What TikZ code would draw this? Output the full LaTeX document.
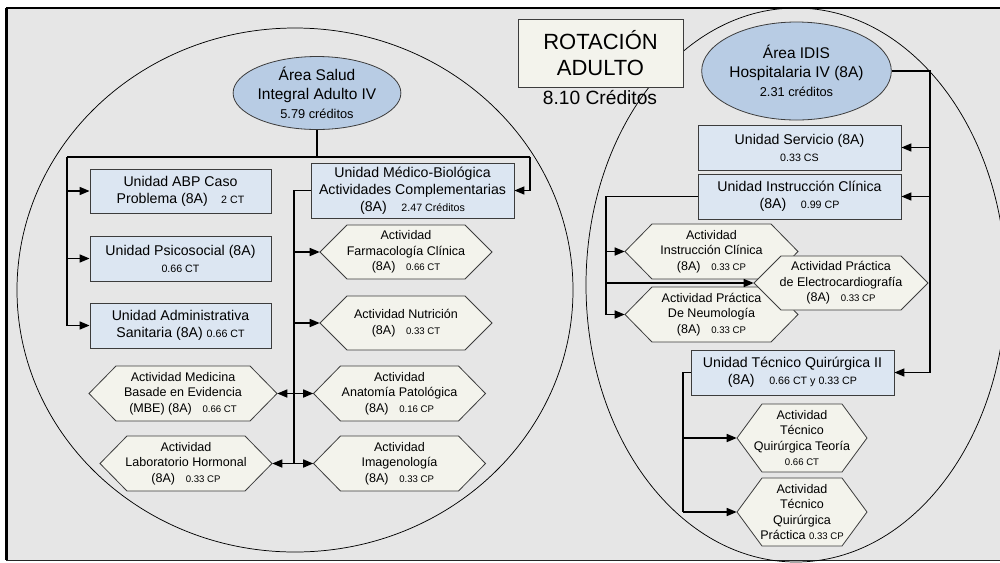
\documentclass[tikz,border=0pt]{standalone}
\usepackage{fontspec}
\setmainfont{Liberation Sans}
\usetikzlibrary{shapes.geometric,arrows.meta}

\definecolor{framefill}{RGB}{230,230,230}
\definecolor{unitfill}{RGB}{220,230,242}
\definecolor{hexfill}{RGB}{243,243,236}
\definecolor{areafill}{RGB}{184,204,228}
\definecolor{boxline}{RGB}{60,60,60}

% small print used for the credit figures
\newcommand{\unitcr}[1]{{\fontsize{8}{9.6}\selectfont #1}}
\newcommand{\hexcr}[1]{{\fontsize{7.2}{9}\selectfont #1}}
\newcommand{\areacr}[1]{{\fontsize{9.6}{11}\selectfont #1}}

% hexagon: name, centre x, centre y, width, height, label, corner inset
\newcommand{\hexnode}[7]{%
  \path[hexshape] (#2-#4/2,#3) -- (#2-#4/2+#7,#3-#5/2) -- (#2+#4/2-#7,#3-#5/2)
     -- (#2+#4/2,#3) -- (#2+#4/2-#7,#3+#5/2) -- (#2-#4/2+#7,#3+#5/2) -- cycle;
  \node[hexlabel, wh={#4}{#5}] (#1) at (#2,#3) {#6};}

\tikzset{
  wh/.style 2 args={minimum width=#1*0.75pt, minimum height=#2*0.75pt},
  unitbox/.style={rectangle, draw=boxline, fill=unitfill, line width=0.6pt, inner sep=0pt,
    align=center, font=\fontsize{10.6}{12.8}\selectfont},
  titlebox/.style={rectangle, draw=boxline, fill=hexfill, line width=0.6pt, inner sep=0pt,
    align=center, font=\fontsize{16.5}{19}\selectfont},
  area/.style={ellipse, draw=boxline, fill=areafill, line width=0.6pt, inner sep=0pt,
    align=center, font=\fontsize{11.6}{14}\selectfont},
  hexshape/.style={draw=boxline, fill=hexfill, line width=0.6pt},
  hexlabel/.style={rectangle, inner sep=0pt, align=center, font=\fontsize{9.4}{11.6}\selectfont},
  ring/.style={draw=black, line width=0.55pt},
  conn/.style={draw=black, line width=1.1pt},
  arr/.style={conn, -{Triangle[length=7.5pt,width=6pt]}},
}

\begin{document}
\begin{tikzpicture}[x=0.75pt, y=-0.75pt]
\useasboundingbox (0,0) rectangle (1000,562);
\fill[white] (0,0) rectangle (1000,562);
\clip (0,0) rectangle (1000,562);

% frame
\fill[framefill] (6,8) rectangle (1010,560);
\draw[line width=2.2pt] (6.5,8) -- (6.5,560);
\draw[line width=1.5pt] (6,8) -- (1010,8);
\draw[line width=1.2pt, draw=black!85] (6,560.5) -- (1010,560.5);

% the two areas
\draw[ring] (295,290) ellipse [x radius=208.5pt, y radius=196.5pt];
\draw[ring] (796,285) ellipse [x radius=157.5pt, y radius=207.75pt];

% title
\node[titlebox, wh={165}{68}] (title) at (600.5,53) {ROTACIÓN\\ADULTO};
\node[inner sep=0pt, font=\fontsize{14.4}{17}\selectfont] (credits) at (600,98) {8.10 Créditos};

% ---------- Área Salud Integral Adulto IV ----------
\node[area, wh={139}{73}] (salud) at (317,93) {Área Salud\\Integral Adulto IV\\\areacr{5.79 créditos}};

\node[unitbox, wh={181}{44}] (abp) at (180.5,191) {Unidad ABP Caso\\Problema (8A)\hspace{10pt}\unitcr{2 CT}};
\node[unitbox, wh={181}{45}] (psico) at (180.5,258.5) {Unidad Psicosocial (8A)\\\unitcr{0.66 CT}};
\node[unitbox, wh={181}{45}] (admin) at (180.5,325.5) {Unidad Administrativa\\Sanitaria (8A) \unitcr{0.66 CT}};
\node[unitbox, wh={203}{55}] (medico) at (412.5,190.5) {Unidad Médico-Biológica\\Actividades Complementarias\\(8A)\hspace{11pt}\unitcr{2.47 Créditos}};

\hexnode{farma}{406}{252}{172}{54}{Actividad\\Farmacología Clínica\\(8A)\hspace{8pt}\hexcr{0.66 CT}}{27}
\hexnode{nutri}{406}{323}{172}{54}{Actividad Nutrición\\(8A)\hspace{8pt}\hexcr{0.33 CT}}{27}
\hexnode{anato}{399.5}{393.5}{172}{55}{Actividad\\Anatomía Patológica\\(8A)\hspace{8pt}\hexcr{0.16 CP}}{27}
\hexnode{imagen}{399.5}{463.5}{172}{55}{Actividad\\Imagenología\\(8A)\hspace{8pt}\hexcr{0.33 CP}}{27}
\hexnode{mbe}{183}{393.5}{188}{55}{Actividad Medicina\\Basade en Evidencia\\(MBE) (8A)\hspace{8pt}\hexcr{0.66 CT}}{27}
\hexnode{labor}{186}{463.5}{172}{55}{Actividad\\Laboratorio Hormonal\\(8A)\hspace{8pt}\hexcr{0.33 CP}}{27}

\coordinate (busL) at (67,157);
\coordinate (busR) at (530,157);
\coordinate (medbus) at (294,190.5);
\draw[conn] (salud.south) -- (salud.south |- busL);
\draw[conn] (busL) -- (busR);
\draw[arr] (busL) |- (abp.west);
\draw[arr] (busL) |- (psico.west);
\draw[arr] (busL) |- (admin.west);
\draw[arr] (busR) |- (medico.east);
\draw[conn] (medico.west) -- (medbus) -- (medbus |- imagen.west);
\draw[arr] (medbus |- farma.west) -- (farma.west);
\draw[arr] (medbus |- nutri.west) -- (nutri.west);
\draw[arr] (medbus |- anato.west) -- (anato.west);
\draw[arr] (medbus |- imagen.west) -- (imagen.west);
\draw[arr] (medbus |- mbe.east) -- (mbe.east);
\draw[arr] (medbus |- labor.east) -- (labor.east);

% ---------- Área IDIS Hospitalaria IV ----------
\node[area, wh={153}{98}] (idis) at (796.5,71) {Área IDIS\\Hospitalaria IV (8A)\\\areacr{2.31 créditos}};

\node[unitbox, wh={203}{45}] (serv) at (799.5,147.5) {Unidad Servicio (8A)\\\unitcr{0.33 CS}};
\node[unitbox, wh={203}{45}] (instr) at (799.5,196.5) {Unidad Instrucción Clínica\\(8A)\hspace{11pt}\unitcr{0.99 CP}};
\node[unitbox, wh={203}{45}] (tecq) at (792.5,372.5) {Unidad Técnico Quirúrgica II\\(8A)\hspace{11pt}\unitcr{0.66 CT y 0.33 CP}};

\hexnode{actinstr}{711.5}{251.5}{173}{55}{Actividad\\Instrucción Clínica\\(8A)\hspace{8pt}\hexcr{0.33 CP}}{27}
\hexnode{neumo}{711.5}{314.5}{173}{55}{Actividad Práctica\\De Neumología\\(8A)\hspace{8pt}\hexcr{0.33 CP}}{27}
\hexnode{electro}{841}{283}{174}{54}{Actividad Práctica\\de Electrocardiografía\\(8A)\hspace{8pt}\hexcr{0.33 CP}}{27}
\hexnode{teoria}{802}{438}{130}{68}{Actividad\\Técnico\\Quirúrgica Teoría\\\hexcr{0.66 CT}}{25}
\hexnode{practica}{802}{512}{130}{68}{Actividad\\Técnico\\Quirúrgica\\Práctica \hexcr{0.33 CP}}{25}

\coordinate (rbus) at (930,71);
\coordinate (ibus) at (606,196.5);
\coordinate (tbus) at (683,372.5);
\draw[conn] (idis.east) -- (rbus) -- (rbus |- tecq.east);
\draw[arr] (rbus |- serv.east) -- (serv.east);
\draw[arr] (rbus |- instr.east) -- (instr.east);
\draw[arr] (rbus |- tecq.east) -- (tecq.east);
\draw[conn] (instr.west) -- (ibus) -- (ibus |- neumo.west);
\draw[arr] (ibus |- actinstr.west) -- (actinstr.west);
\draw[arr] (ibus |- electro.west) -- (electro.west);
\draw[arr] (ibus |- neumo.west) -- (neumo.west);
\draw[conn] (tecq.west) -- (tbus) -- (tbus |- practica.west);
\draw[arr] (tbus |- teoria.west) -- (teoria.west);
\draw[arr] (tbus |- practica.west) -- (practica.west);
\end{tikzpicture}
\end{document}
